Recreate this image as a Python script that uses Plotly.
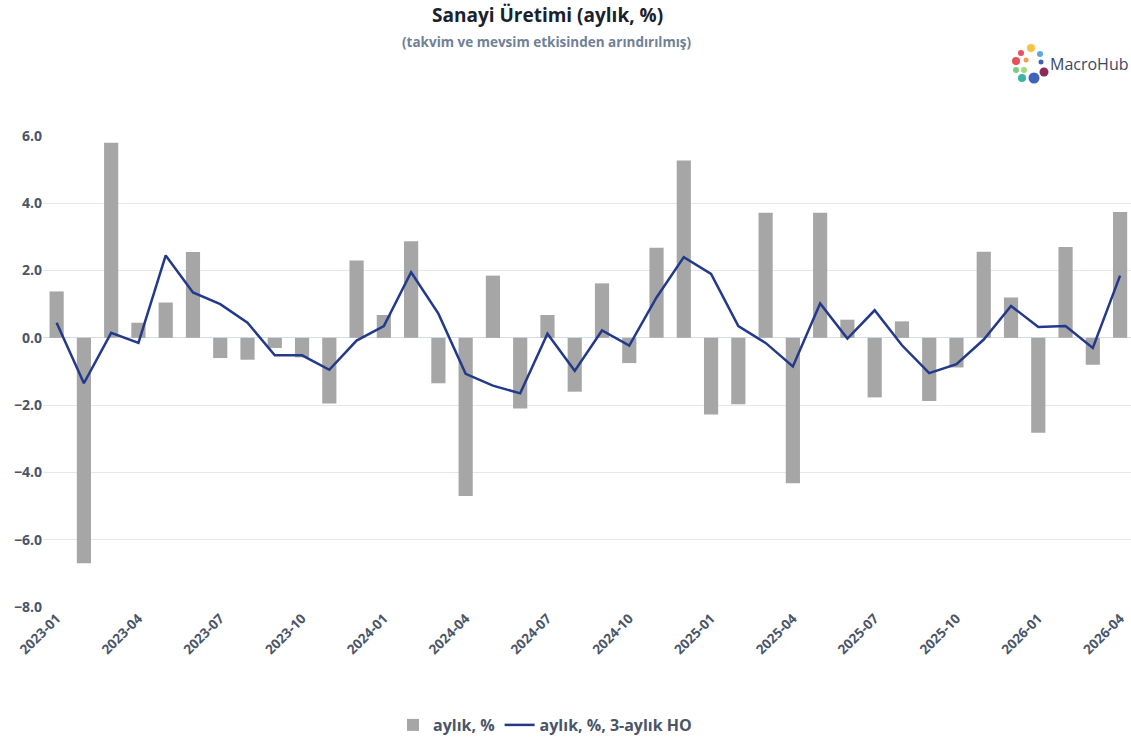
import plotly.graph_objects as go

months = ["2023-01","2023-02","2023-03","2023-04","2023-05","2023-06","2023-07","2023-08","2023-09","2023-10","2023-11","2023-12",
          "2024-01","2024-02","2024-03","2024-04","2024-05","2024-06","2024-07","2024-08","2024-09","2024-10","2024-11","2024-12",
          "2025-01","2025-02","2025-03","2025-04","2025-05","2025-06","2025-07","2025-08","2025-09","2025-10","2025-11","2025-12",
          "2026-01","2026-02","2026-03","2026-04"]

monthly = [1.38, -6.70, 5.80, 0.45, 1.05, 2.55, -0.60, -0.65, -0.30, -0.58, -1.95, 2.30,
           0.68, 2.87, -1.35, -4.70, 1.85, -2.10, 0.68, -1.60, 1.62, -0.75, 2.68, 5.27,
           -2.28, -1.97, 3.72, -4.32, 3.72, 0.54, -1.77, 0.49, -1.88, -0.88, 2.56, 1.20,
           -2.82, 2.70, -0.80, 3.74]

ma3 = [0.45, -1.35, 0.15, -0.15, 2.45, 1.35, 1.00, 0.45, -0.52, -0.52, -0.95, -0.08,
       0.35, 1.95, 0.72, -1.07, -1.42, -1.65, 0.12, -0.98, 0.22, -0.23, 1.20, 2.40,
       1.90, 0.35, -0.15, -0.85, 1.02, -0.02, 0.82, -0.22, -1.05, -0.78, -0.05, 0.95,
       0.32, 0.35, -0.30, 1.85]

tick_labels = months[::3]

font_family = "Open Sans, Noto Sans, sans-serif"

W, H = 1131, 737
ML, MR, MT, MB = 43, 0, 136, 130
plot_w = W - ML - MR
plot_h = H - MT - MB


def px_x(x):
    return (x - ML) / plot_w


def px_y(y):
    return (H - MB - y) / plot_h


fig = go.Figure()
fig.add_trace(go.Bar(x=months, y=monthly, name="aylık, %", marker_color="#a6a6a6",
                     marker_line_width=0))
fig.add_trace(go.Scatter(x=months, y=ma3, name="aylık, %, 3-aylık HO", mode="lines",
                         line=dict(color="#233a8b", width=2.5)))

fig.update_layout(
    width=W, height=H,
    margin=dict(l=ML, r=MR, t=MT, b=MB, autoexpand=False),
    paper_bgcolor="white", plot_bgcolor="white",
    bargap=0.48,
    font=dict(family=font_family, color="#4a5568"),
    showlegend=True,
    legend=dict(orientation="h", x=px_x(545), xanchor="center", y=px_y(725), yanchor="middle",
                font=dict(size=16, color="#4a5568", weight="bold"), traceorder="normal",
                itemwidth=30),
    xaxis=dict(type="category", range=[-0.5, 39.4], tickvals=tick_labels, ticktext=tick_labels,
               tickangle=-45, showgrid=False, showline=False, ticks="", automargin=False,
               tickfont=dict(size=13.5, color="#4a5568", weight="bold")),
    yaxis=dict(range=[-8, 6], tickvals=[-8, -6, -4, -2, 0, 2, 4, 6], tickformat=".1f",
               gridcolor="#e3e7ef", gridwidth=1, zeroline=True, zerolinecolor="#d5dbe8",
               zerolinewidth=1, ticks="", automargin=False,
               tickfont=dict(size=14, color="#4a5568", weight="bold")),
    annotations=[
        dict(text="Sanayi Üretimi (aylık, %)", x=px_x(547), y=px_y(15), xref="paper", yref="paper",
             yanchor="middle", showarrow=False, font=dict(size=19, color="#1a202c", weight="bold")),
        dict(text="(takvim ve mevsim etkisinden arındırılmış)", x=px_x(547), y=px_y(42),
             xref="paper", yref="paper", yanchor="middle", showarrow=False,
             font=dict(size=13.5, color="#718096", weight="bold")),
        dict(text="MacroHub", x=px_x(1131), y=px_y(64), xref="paper", yref="paper",
             xanchor="right", yanchor="middle", showarrow=False,
             font=dict(size=16, color="#3a4766")),
    ],
)

# logo dots
dots = [(1031, 48, "#f6c244", 4), (1021, 53, "#e8505b", 3), (1040, 54, "#5aa9e6", 3),
        (1016, 61, "#e8505b", 4), (1026, 60, "#f6a04d", 2.5), (1044, 72, "#8e2a5a", 4.5),
        (1016, 70, "#7ccf7a", 3), (1024, 70, "#a3d977", 3), (1022, 78, "#3cb4a3", 4),
        (1034, 78, "#3e63b8", 5.5), (1041, 62, "#3e63b8", 2.5)]
shapes = []
for (cx, cy, col, r) in dots:
    shapes.append(dict(type="circle", xref="paper", yref="paper",
                       x0=px_x(cx - r), x1=px_x(cx + r), y0=px_y(cy + r), y1=px_y(cy - r),
                       fillcolor=col, line_width=0))
fig.update_layout(shapes=shapes)

fig.write_html("out.html", config={"displayModeBar": False},
               post_script="document.body.style.margin='0';")
